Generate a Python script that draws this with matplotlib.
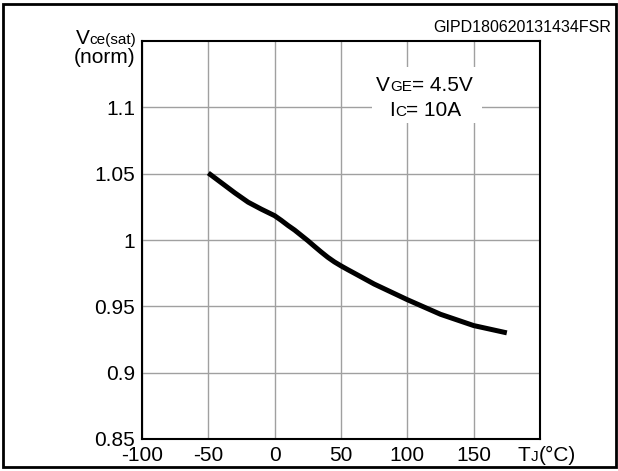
import matplotlib
matplotlib.use('Agg')
import matplotlib.pyplot as plt
from matplotlib.patches import Rectangle

# Data
temps = [-50, -40, -30, -20, -10, 0, 5, 10, 15, 20, 25, 30, 35, 40, 45, 50, 55,
         60, 75, 100, 125, 150, 175]
vce = [1.0505, 1.043, 1.0355, 1.0285, 1.0232, 1.0183, 1.0148, 1.011, 1.0075,
       1.0035, 0.9995, 0.9952, 0.9910, 0.9870, 0.9835, 0.9805, 0.9777,
       0.9750, 0.9668, 0.955, 0.944, 0.9355, 0.930]
x_ticks = [-100, -50, 0, 50, 100, 150]
x_tick_labels = ['-100', '-50', '0', '50', '100', '150']
y_ticks = [0.85, 0.9, 0.95, 1.0, 1.05, 1.1]
y_tick_labels = ['0.85', '0.9', '0.95', '1', '1.05', '1.1']

plt.rcParams['font.family'] = ['Liberation Sans', 'DejaVu Sans']

W, H = 618, 471
fig = plt.figure(figsize=(W / 100, H / 100), dpi=100)
ax = fig.add_axes([142 / W, 1 - 439 / H, 398 / W, 398 / H])
ax.set_xlim(-100, 200)
ax.set_ylim(0.85, 1.15)
ax.set_xticks(x_ticks)
ax.set_xticklabels(x_tick_labels)
ax.set_yticks(y_ticks)
ax.set_yticklabels(y_tick_labels)
ax.grid(True, color='#a0a0a0', lw=1.0)
ax.tick_params(length=0, labelsize=15, pad=5, colors='black')
for s in ax.spines.values():
    s.set_linewidth(1.5)
    s.set_color('black')
    s.set_zorder(5)

ax.plot(temps, vce, color='black', lw=3.6, solid_capstyle='butt',
        solid_joinstyle='round', zorder=3)

# white background behind annotation
ax.add_patch(Rectangle((0.578, 0.794), 0.276, 0.141, transform=ax.transAxes,
                       facecolor='white', edgecolor='none', zorder=2))

renderer = fig.canvas.get_renderer()


def chain(x_px, y_px, parts):
    x = x_px
    for s, size in parts:
        t = fig.text(x / W, 1 - y_px / H, s, fontsize=size, ha='left',
                     va='baseline', color='black')
        bb = t.get_window_extent(renderer)
        x = bb.x1


chain(376, 91, [('V', 15), ('GE', 11), ('= 4.5V', 15)])
chain(389, 116, [('I', 15), ('C', 11), ('= 10A', 15)])
chain(76, 44, [('V', 15), ('ce(sat)', 11)])
fig.text(135 / W, 1 - 63 / H, '(norm)', fontsize=15, ha='right', va='baseline')
chain(518, 461, [('T', 15), ('J', 11), ('(°C)', 15)])
fig.text(611 / W, 1 - 31.5 / H, 'GIPD180620131434FSR', fontsize=11.5,
         ha='right', va='baseline')

fig.add_artist(Rectangle((2.5 / W, 4 / H), (616 - 2.5) / W, (467 - 4) / H,
                         transform=fig.transFigure, fill=False, lw=2,
                         edgecolor='black'))

fig.savefig('out.png', dpi=100)
